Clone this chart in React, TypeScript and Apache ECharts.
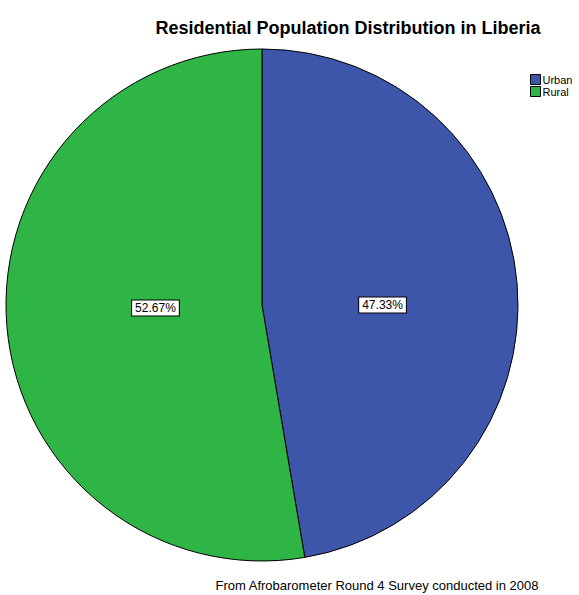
import React, { useEffect, useRef } from "react";
import * as echarts from "echarts";

const categories = ["Urban", "Rural"];
const values = [47.33, 52.67];
const colors = ["#3e56aa", "#2eb545"];
const labelOffsets = [
  [-10, 11],
  [24, -8],
];
const titleText = "Residential Population Distribution in Liberia";
const footnote = "From Afrobarometer Round 4 Survey conducted in 2008";

export default function App() {
  const ref = useRef<HTMLDivElement>(null);
  useEffect(() => {
    if (!ref.current) return;
    const chart = echarts.init(ref.current, undefined, { renderer: "svg" });
    chart.setOption({
      animation: false,
      backgroundColor: "#ffffff",
      title: [
        {
          text: titleText,
          left: 343,
          top: 14,
          textAlign: "center",
          textStyle: { fontFamily: "Liberation Sans, Arial", fontSize: 18, fontWeight: "bold", color: "#000" },
        },
        {
          text: footnote,
          left: 372,
          top: 574,
          textAlign: "center",
          textStyle: { fontFamily: "Liberation Sans, Arial", fontSize: 13, fontWeight: "normal", color: "#000" },
        },
      ],
      legend: {
        orient: "vertical",
        left: 525,
        top: 69,
        itemWidth: 10,
        itemHeight: 10,
        itemGap: 1,
        icon: "rect",
        textStyle: { fontFamily: "Liberation Sans, Arial", fontSize: 11, color: "#000", padding: [0, 0, 0, -3] },
        itemStyle: { borderColor: "#000", borderWidth: 1 },
        data: categories,
      },
      series: [
        {
          type: "pie",
          center: [262, 305],
          radius: 256,
          startAngle: 90,
          clockwise: true,
          data: categories.map((c, i) => ({
            name: c,
            value: values[i],
            itemStyle: { color: colors[i] },
            label: { offset: labelOffsets[i] },
          })),
          itemStyle: { borderColor: "#000", borderWidth: 1 },
          label: {
            show: true,
            position: "inner",
            formatter: (p: any) => p.value.toFixed(2) + "%",
            fontFamily: "Liberation Sans, Arial",
            fontSize: 12,
            color: "#000",
            backgroundColor: "#fff",
            borderColor: "#000",
            borderWidth: 1,
            padding: [2, 3, 1, 3],
          },
          labelLine: { show: false },
          emphasis: { disabled: true },
        },
      ],
    });
    return () => chart.dispose();
  }, []);
  return <div ref={ref} style={{ position: "fixed", left: 0, top: 0, width: 579, height: 595 }} />;
}
